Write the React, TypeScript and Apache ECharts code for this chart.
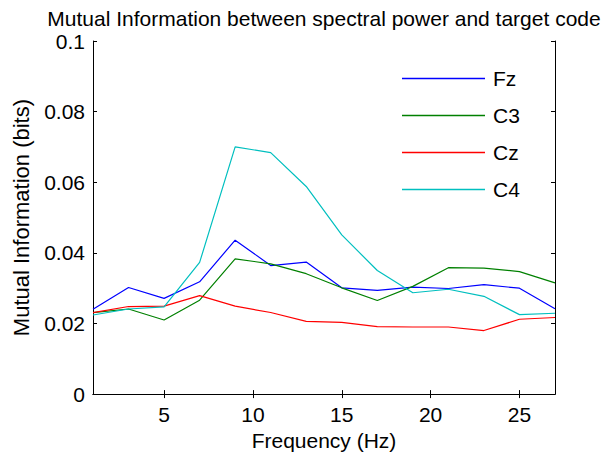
import React, { useEffect, useRef } from "react";
import * as echarts from "echarts";

const freqs = [1, 3, 5, 7, 9, 11, 13, 15, 17, 19, 21, 23, 25, 27];
const fz = [0.0240, 0.0302, 0.0271, 0.0318, 0.0436, 0.0364, 0.0374, 0.0301, 0.0294, 0.0303, 0.0299, 0.0310, 0.0300, 0.0242];
const c3 = [0.0231, 0.0241, 0.0210, 0.0266, 0.0383, 0.0369, 0.0341, 0.0301, 0.0265, 0.0305, 0.0358, 0.0357, 0.0347, 0.0315];
const cz = [0.0231, 0.0248, 0.0249, 0.0279, 0.0249, 0.0231, 0.0206, 0.0203, 0.0191, 0.0190, 0.0190, 0.0180, 0.0212, 0.0217];
const c4 = [0.0224, 0.0241, 0.0247, 0.0373, 0.0700, 0.0684, 0.0588, 0.0451, 0.0350, 0.0287, 0.0297, 0.0277, 0.0225, 0.0229];
const xTicks = [5, 10, 15, 20, 25];
const seriesNames = ["Fz", "C3", "Cz", "C4"];
const seriesColors = ["#0000ff", "#008000", "#ff0000", "#00bfbf"];

const FONT = "'Liberation Sans', Arial, Helvetica, sans-serif";

export default function App() {
  const ref = useRef<HTMLDivElement>(null);
  useEffect(() => {
    if (!ref.current) return;
    const chart = echarts.init(ref.current, undefined, { renderer: "svg" });
    const data = [fz, c3, cz, c4];
    const axisCommon = {
      axisLine: { show: true, lineStyle: { color: "#000", width: 1 } },
      splitLine: { show: false },
    };
    chart.setOption({
      animation: false,
      backgroundColor: "#fff",
      textStyle: { fontFamily: FONT },
      title: {
        text: "Mutual Information between spectral power and target code",
        left: 324,
        top: 8,
        textAlign: "center",
        padding: 0,
        textStyle: { fontFamily: FONT, fontSize: 21, fontWeight: "normal", color: "#000" },
      },
      legend: {
        orient: "vertical",
        left: 397,
        top: 63,
        icon: "rect",
        itemWidth: 83,
        itemHeight: 1.3,
        itemGap: 16,
        data: seriesNames,
        textStyle: { fontFamily: FONT, fontSize: 21, lineHeight: 21, color: "#000", padding: [0, 0, 0, 3] },
      },
      grid: { left: 93, right: 53, top: 41, bottom: 58, containLabel: false },
      xAxis: [
        {
          type: "value",
          min: 1,
          max: 27,
          name: "Frequency (Hz)",
          nameLocation: "middle",
          nameGap: 32,
          nameTextStyle: { fontFamily: FONT, fontSize: 21, color: "#000" },
          ...axisCommon,
          axisTick: { show: true, inside: true, length: 4, customValues: xTicks, lineStyle: { color: "#000" } },
          axisLabel: { customValues: xTicks, margin: 10, fontFamily: FONT, fontSize: 21, color: "#000" },
        },
        {
          type: "value",
          min: 1,
          max: 27,
          position: "top",
          ...axisCommon,
          axisTick: { show: true, inside: true, length: 4, customValues: xTicks, lineStyle: { color: "#000" } },
          axisLabel: { show: false },
        },
      ],
      yAxis: [
        {
          type: "value",
          min: 0,
          max: 0.1,
          interval: 0.02,
          name: "Mutual Information (bits)",
          nameLocation: "middle",
          nameGap: 61,
          nameTextStyle: { fontFamily: FONT, fontSize: 22, color: "#000" },
          ...axisCommon,
          axisTick: { show: true, inside: true, length: 4, lineStyle: { color: "#000" } },
          axisLabel: { margin: 8, fontFamily: FONT, fontSize: 21, color: "#000" },
        },
        {
          type: "value",
          min: 0,
          max: 0.1,
          interval: 0.02,
          position: "right",
          ...axisCommon,
          axisTick: { show: true, inside: true, length: 4, lineStyle: { color: "#000" } },
          axisLabel: { show: false },
        },
      ],
      series: data.map((vals, i) => ({
        name: seriesNames[i],
        type: "line",
        xAxisIndex: 0,
        yAxisIndex: 0,
        data: freqs.map((f, j) => [f, vals[j]]),
        symbol: "none",
        lineStyle: { color: seriesColors[i], width: 1.2 },
        itemStyle: { color: seriesColors[i] },
      })),
    });
    return () => chart.dispose();
  }, []);
  return <div ref={ref} style={{ width: 608, height: 456, position: "absolute", left: 0, top: 0 }} />;
}
